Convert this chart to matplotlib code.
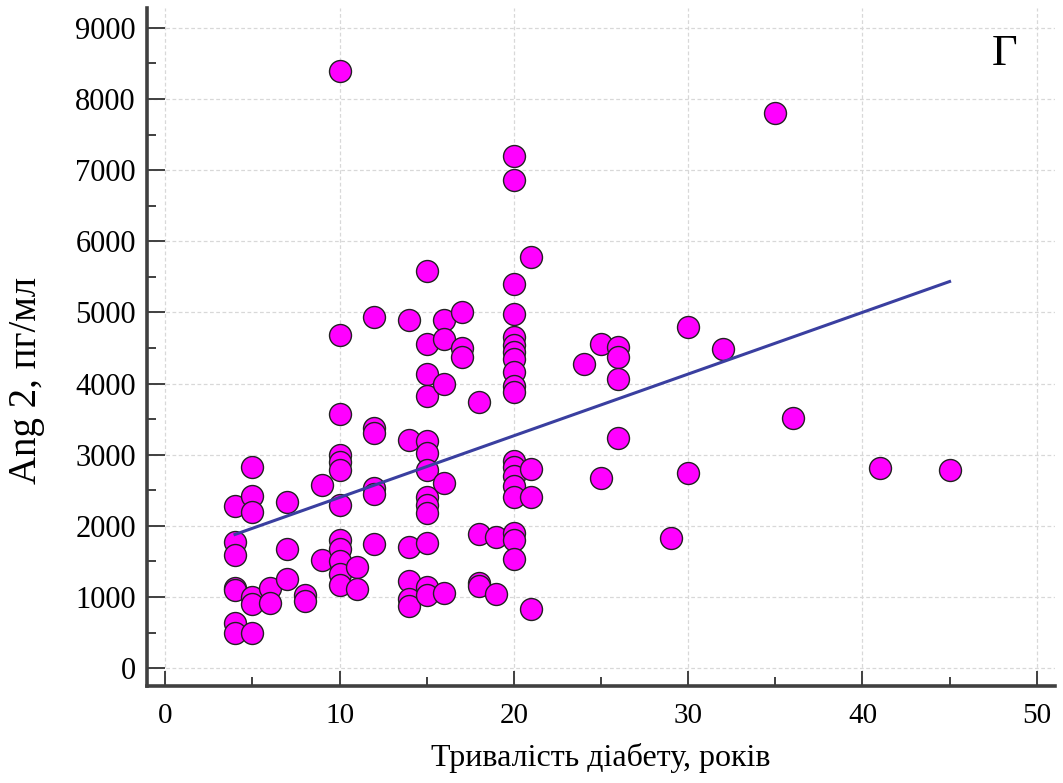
import matplotlib
matplotlib.use("Agg")
import matplotlib.pyplot as plt
from matplotlib.ticker import MultipleLocator

plt.rcParams["font.family"] = ["Liberation Serif", "DejaVu Serif"]

# тривалість діабету (роки) -> значення Ang 2 (пг/мл), по стовпчиках
years = {
    4: [2280, 1770, 1590, 1130, 1100, 640, 500],
    5: [2830, 2420, 2200, 1000, 900, 490],
    6: [1130, 920],
    7: [2330, 1670, 1250],
    8: [1030, 950],
    9: [2580, 1520],
    10: [8400, 4680, 3570, 3000, 2900, 2780, 2290, 1800, 1680, 1500, 1320, 1170],
    11: [1420, 1110],
    12: [4930, 3380, 3310, 2530, 2450, 1740],
    14: [4900, 3210, 1700, 1230, 970, 880],
    15: [5580, 4560, 4130, 3820, 3200, 3030, 2780, 2400, 2290, 2180, 1760, 1140, 1030],
    16: [4890, 4630, 4000, 2600, 1050],
    17: [5010, 4500, 4380],
    18: [3740, 1890, 1200, 1160],
    19: [1840, 1040],
    20: [7200, 6860, 5400, 4980, 4650, 4540, 4450, 4350, 4160, 3970, 3880,
         2910, 2830, 2700, 2560, 2400, 1900, 1800, 1540],
    21: [5780, 2800, 2400, 830],
    24: [4270],
    25: [4550, 2680],
    26: [4510, 4380, 4070, 3240],
    29: [1830],
    30: [4800, 2750],
    32: [4490],
    35: [7810],
    36: [3520],
    41: [2810],
    45: [2790],
}

xs = []
ys = []
for k, vals in years.items():
    for v in vals:
        xs.append(k)
        ys.append(v)

# лінія регресії
fit_intercept = 1533
fit_slope = 86.7
fit_x = [4, 45]
fit_y = [fit_intercept + fit_slope * t for t in fit_x]

fig = plt.figure(figsize=(10.63, 7.83), dpi=100)
ax = fig.add_axes([0.1383, 0.1239, 0.8542, 0.866])

ax.grid(True, color="#d8d8d8", linestyle=(0, (3, 2)), linewidth=0.9, zorder=0)
ax.scatter(xs, ys, s=250, c="#ff00ff", edgecolors="#222222", linewidths=1.0, zorder=3)
ax.plot(fit_x, fit_y, color="#3a3fa0", linewidth=2.2, zorder=4)

ax.set_xlim(-1.05, 51.05)
ax.set_ylim(-250, 9280)
ax.xaxis.set_major_locator(MultipleLocator(10))
ax.xaxis.set_minor_locator(MultipleLocator(5))
ax.yaxis.set_major_locator(MultipleLocator(1000))
ax.yaxis.set_minor_locator(MultipleLocator(500))

for s in ["top", "right"]:
    ax.spines[s].set_visible(False)
for s in ["left", "bottom"]:
    ax.spines[s].set_linewidth(2.6)
    ax.spines[s].set_color("#404040")

ax.tick_params(which="major", direction="in", length=13, width=1.4, color="#404040",
               labelsize=22, pad=8)
ax.tick_params(which="minor", direction="in", length=6.5, width=1.4, color="#404040")
ax.tick_params(axis="x", which="major", length=11, pad=12, labelsize=21)

ax.set_xlabel("Тривалість діабету, років", fontsize=23, labelpad=10)
ax.set_ylabel("Ang 2, пг/мл", fontsize=28)
ax.yaxis.set_label_coords(-0.112, 0.45)
ax.text(0.945, 0.962, "Г", transform=ax.transAxes, fontsize=32, ha="center", va="top")

fig.savefig("out.png", dpi=100)
